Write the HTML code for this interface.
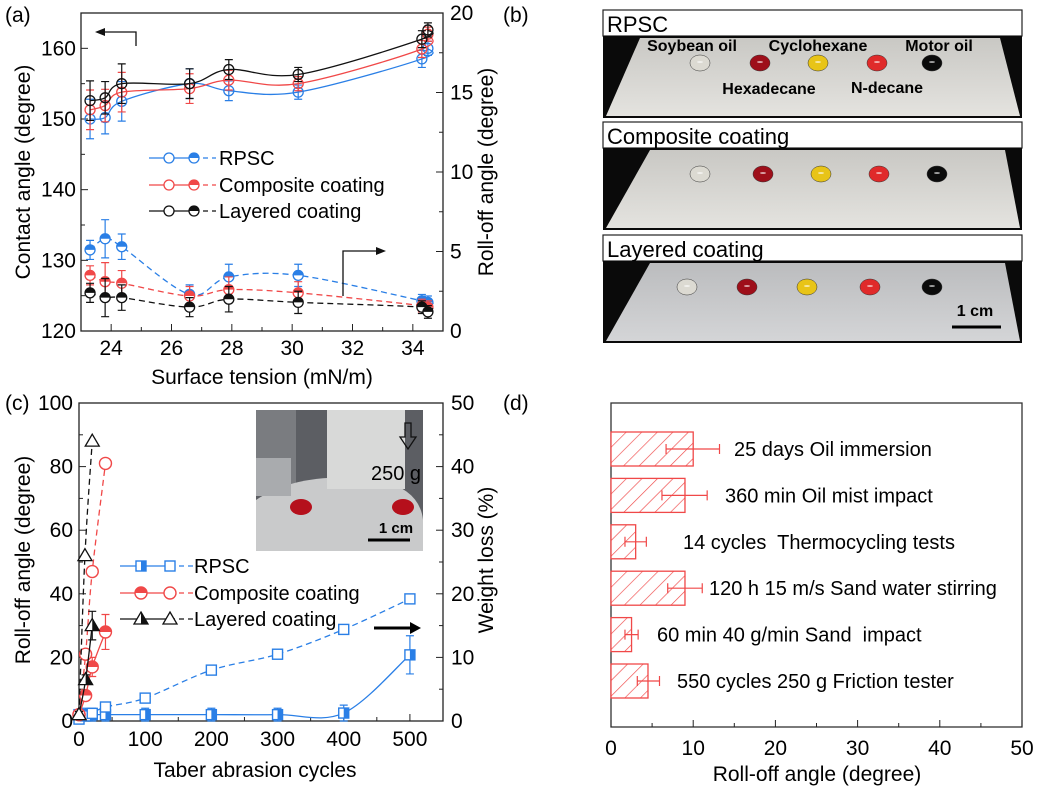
<!DOCTYPE html>
<html><head><meta charset="utf-8"><style>
html,body{margin:0;padding:0;background:#fff;}
svg{display:block;font-family:"Liberation Sans",Arial,sans-serif;}
text{white-space:pre;}
</style></head><body>
<svg id="fig" width="1040" height="788" viewBox="0 0 1040 788" xmlns="http://www.w3.org/2000/svg">
<defs>
<pattern id="hatch" patternUnits="userSpaceOnUse" width="11" height="11" patternTransform="rotate(45)">
<rect width="11" height="11" fill="#fff"/><line x1="0" y1="0" x2="0" y2="11" stroke="#f04848" stroke-width="1.3"/>
</pattern>
<linearGradient id="plateA" x1="0" y1="0" x2="0" y2="1"><stop offset="0" stop-color="#c9c8c4"/><stop offset="1" stop-color="#e4e3df"/></linearGradient>
<linearGradient id="plateC" x1="0" y1="0" x2="0" y2="1"><stop offset="0" stop-color="#bbbcbe"/><stop offset="1" stop-color="#d4d5d7"/></linearGradient>
</defs>
<g id="layer"></g>
<text x="5" y="22" font-size="21">(a)</text>
<text x="5" y="410" font-size="21">(c)</text>
<text x="503" y="22" font-size="21">(b)</text>
<text x="503" y="410" font-size="21">(d)</text>
</svg>
<script>
// ---------- Panel (a) data ----------
const aX = [23.3, 23.8, 24.35, 26.6, 27.9, 30.2, 34.3, 34.5];
const aCA_RPSC = [150.0, 150.2, 152.5, 155.0, 154.0, 153.8, 158.5, 160.0];
const aCA_Comp = [151.3, 151.9, 153.8, 154.3, 155.5, 155.0, 159.9, 162.0];
const aCA_Lay  = [152.6, 153.0, 155.0, 155.0, 157.0, 156.3, 161.3, 162.6];
const aCAerr = [2.8, 2.3, 2.8, 2.1, 1.4, 1.0, 1.2, 1.0];
const aRO_RPSC = [5.1, 5.8, 5.3, 2.3, 3.4, 3.5, 1.9, 1.8];
const aRO_Comp = [3.5, 3.1, 3.0, 2.2, 2.6, 2.4, 1.6, 1.5];
const aRO_Lay  = [2.4, 2.1, 2.1, 1.5, 2.0, 1.8, 1.5, 1.2];
const aROerr = [0.6, 1.2, 0.8, 0.6, 0.8, 0.7, 0.4, 0.4];
const aXTicks = [24, 26, 28, 30, 32, 34];
const aYTicks = [120, 130, 140, 150, 160];
const aY2Ticks = [0, 5, 10, 15, 20];
// ---------- Panel (c) data ----------
const cX_RPSC = [0, 10, 20, 40, 100, 200, 300, 400, 500];
const cRO_RPSC = [2, 2, 2, 2, 2, 2, 2, 2.5, 20.8];
const cROerr_RPSC = [1.5, 2, 2, 2, 2, 2, 2, 2.5, 6];
const cWX_RPSC = [0, 10, 20, 40, 100, 200, 300, 400, 500];
const cWL_RPSC = [0.3, 0.8, 1.2, 2.2, 3.6, 8.0, 10.5, 14.4, 19.2];
const cX_Comp = [0, 10, 20, 40];
const cRO_Comp = [2, 8, 17, 28];
const cROerr_Comp = [1, 1.5, 3, 5.5];
const cWL_Comp = [1, 10.5, 23.5, 40.5];
const cX_Lay = [0, 10, 20];
const cRO_Lay = [2, 13, 30];
const cROerr_Lay = [1, 1.5, 4.5];
const cWX_Lay = [0, 9, 20];
const cWL_Lay = [1, 26, 44];
const cXTicks = [0, 100, 200, 300, 400, 500];
const cYTicks = [0, 20, 40, 60, 80, 100];
const cY2Ticks = [0, 10, 20, 30, 40, 50];
// ---------- Panel (d) data ----------
const dLabels = ["25 days Oil immersion","360 min Oil mist impact","14 cycles  Thermocycling tests","120 h 15 m/s Sand water stirring","60 min 40 g/min Sand  impact","550 cycles 250 g Friction tester"];
const dValues = [10, 9, 3, 9, 2.5, 4.5];
const dErrLo = [3.3, 2.8, 1.3, 2.1, 0.8, 1.3];
const dErrHi = [3.2, 2.7, 1.3, 2.1, 0.8, 1.4];
const dXTicks = [0, 10, 20, 30, 40, 50];

const NS = "http://www.w3.org/2000/svg";
const L = document.getElementById('layer');
function mk(tag, attrs, parent) {
  const e = document.createElementNS(NS, tag);
  for (const k in attrs) e.setAttribute(k, attrs[k]);
  (parent || L).appendChild(e);
  return e;
}
function txt(x, y, s, size, anchor, parent) {
  const t = mk('text', {x: x, y: y, 'font-size': size, 'text-anchor': anchor || 'start'}, parent);
  t.textContent = s;
  return t;
}
function spline(pts) {
  let d = 'M' + pts[0][0] + ',' + pts[0][1];
  for (let i = 0; i < pts.length - 1; i++) {
    const p0 = pts[i - 1] || pts[i], p1 = pts[i], p2 = pts[i + 1], p3 = pts[i + 2] || p2;
    const c1 = [p1[0] + (p2[0] - p0[0]) / 6, p1[1] + (p2[1] - p0[1]) / 6];
    const c2 = [p2[0] - (p3[0] - p1[0]) / 6, p2[1] - (p3[1] - p1[1]) / 6];
    d += ' C' + c1 + ' ' + c2 + ' ' + p2;
  }
  return d;
}
const BLUE = '#2a7fe6', RED = '#f04848', BLK = '#111';
const FS = 21;

// ================= PANEL (a) =================
const A = {l: 81, r: 443, t: 13, b: 331};
const ax = v => A.l + (v - 23) / 12 * (A.r - A.l);
const ay = v => A.b - (v - 120) / 45 * (A.b - A.t);
const ay2 = v => A.b - v / 20 * (A.b - A.t);
const gA = mk('g', {});


const frameA = mk('rect', {x: A.l, y: A.t, width: A.r - A.l, height: A.b - A.t, fill: 'none', stroke: '#222', 'stroke-width': 1.3}, gA);


for (let v = 23; v <= 35; v += 1) {
  const major = v % 2 === 0;
  mk('line', {x1: ax(v), x2: ax(v), y1: A.b, y2: A.b - (major ? 7 : 4), stroke: '#222'}, gA);
}
aXTicks.forEach(v => {
  const t = txt(ax(v), A.b + 24, String(v), FS, 'middle', gA);
  
  
});
for (let v = 120; v <= 165; v += 5) {
  mk('line', {x1: A.l, x2: A.l + (v % 10 === 0 ? 7 : 4), y1: ay(v), y2: ay(v), stroke: '#222'}, gA);
}
aYTicks.forEach(v => {
  const t = txt(A.l - 5, ay(v) + 7, String(v), FS, 'end', gA);
  
  
});
for (let v = 0; v <= 20; v += 2.5) {
  mk('line', {x1: A.r, x2: A.r - (v % 5 === 0 ? 7 : 4), y1: ay2(v), y2: ay2(v), stroke: '#222'}, gA);
}
aY2Ticks.forEach(v => {
  const t = txt(A.r + 7, ay2(v) + 7, String(v), FS, 'start', gA);
  
  
});
const axA = txt(262, 384, 'Surface tension (mN/m)', FS, 'middle', gA);


const ytA = txt(0, 0, 'Contact angle (degree)', FS, 'middle', gA);
ytA.setAttribute('transform', 'translate(30,172) rotate(-90)');


const y2A = txt(0, 0, 'Roll-off angle (degree)', FS, 'middle', gA);
y2A.setAttribute('transform', 'translate(493,172) rotate(-90)');



function seriesA(ca, ro, col, name) {
  const g = mk('g', {}, gA);
  
  
  const p1 = mk('path', {d: spline(aX.map((x, i) => [ax(x), ay(ca[i])])), fill: 'none', stroke: col, 'stroke-width': 1.3}, g);
  
  
  const p2 = mk('path', {d: spline(aX.map((x, i) => [ax(x), ay2(ro[i])])), fill: 'none', stroke: col, 'stroke-width': 1.3, 'stroke-dasharray': '6,4'}, g);
  
  
  aX.forEach((x, i) => {
    const X = ax(x);
    let y0 = ay(ca[i] - aCAerr[i]), y1 = ay(ca[i] + aCAerr[i]);
    mk('path', {d: `M${X},${y0}V${y1}M${X-4},${y0}h8M${X-4},${y1}h8`, stroke: col, 'stroke-width': 1.2, fill: 'none'}, g);
    const c = mk('circle', {cx: X, cy: ay(ca[i]), r: 5, fill: 'none', stroke: col, 'stroke-width': 1.3}, g);
    
    
    y0 = ay2(ro[i] - aROerr[i]); y1 = ay2(ro[i] + aROerr[i]);
    mk('path', {d: `M${X},${y0}V${y1}M${X-4},${y0}h8M${X-4},${y1}h8`, stroke: col, 'stroke-width': 1.2, fill: 'none'}, g);
    const Y = ay2(ro[i]);
    mk('circle', {cx: X, cy: Y, r: 5, fill: '#fff', stroke: col, 'stroke-width': 1.3}, g);
    const h = mk('path', {d: `M${X-5},${Y} A5,5 0 0 1 ${X+5},${Y} Z`, fill: col}, g);
    
    
  });
}
seriesA(aCA_RPSC, aRO_RPSC, BLUE, 'rpsc');
seriesA(aCA_Comp, aRO_Comp, RED, 'composite');
seriesA(aCA_Lay, aRO_Lay, BLK, 'layered');
[['RPSC', BLUE, 158], ['Composite coating', RED, 185], ['Layered coating', BLK, 211]].forEach(([n, c, y]) => {
  const g = mk('g', {}, gA);
  
  
  mk('line', {x1: 149, x2: 194, y1: y, y2: y, stroke: c, 'stroke-width': 1.3}, g);
  mk('line', {x1: 194, x2: 216, y1: y, y2: y, stroke: c, 'stroke-width': 1.3, 'stroke-dasharray': '5,4'}, g);
  mk('circle', {cx: 169, cy: y, r: 5, fill: '#fff', stroke: c, 'stroke-width': 1.3}, g);
  mk('circle', {cx: 194, cy: y, r: 5, fill: '#fff', stroke: c, 'stroke-width': 1.3}, g);
  mk('path', {d: `M189,${y} A5,5 0 0 1 199,${y} Z`, fill: c}, g);
  txt(219, y + 7, n, 20, 'start', g);
});
const arA1 = mk('path', {d: 'M136,46V32H100', fill: 'none', stroke: '#111', 'stroke-width': 1.3}, gA);


mk('path', {d: 'M95,32l10,-4v8z', fill: '#111'}, gA);
const arA2 = mk('path', {d: 'M343,296V251H379', fill: 'none', stroke: '#111', 'stroke-width': 1.3}, gA);


mk('path', {d: 'M386,251l-10,-4v8z', fill: '#111'}, gA);

// ================= PANEL (b) photos =================
const gB = mk('g', {});


const drops = ['#dcdad2', '#9e0f1a', '#e8c417', '#e02a2a', '#0b0b0b'];
function photo(y, name, dropXs, dropY, plateFill, plateTop, labels) {
  const g = mk('g', {}, gB);
  
  
  mk('rect', {x: 603, y: y, width: 419, height: 26, fill: '#fff', stroke: '#222', 'stroke-width': 1.2}, g);
  const h = txt(607, y + 22, name === 'rpsc' ? 'RPSC' : name === 'composite' ? 'Composite coating' : 'Layered coating', 22, 'start', g);
  
  
  mk('rect', {x: 603, y: y + 26, width: 419, height: 82, fill: '#0a0a0a'}, g);
  mk('path', {d: `M${plateTop[0]},${y+28}L${plateTop[1]},${y+28}L1020,${y+106}L606,${y+106}Z`, fill: plateFill}, g);
  dropXs.forEach((x, i) => {
    const d = mk('ellipse', {cx: x, cy: y + dropY, rx: 10, ry: 8, fill: drops[i], stroke: '#333', 'stroke-width': 0.5}, g);
    
    
    mk('ellipse', {cx: x, cy: y + dropY - 1, rx: 3, ry: 1, fill: '#fff', opacity: 0.6}, g);
  });
  (labels || []).forEach(([s, x, yy]) => {
    const t = txt(x, yy, s, 16, 'middle', g);
    t.setAttribute('font-weight', 'bold');
    
    
  });
}
photo(10, 'rpsc', [700, 760, 818, 877, 932], 53, 'url(#plateA)', [640, 1000],
  [['Soybean oil', 692, 51], ['Cyclohexane', 818, 51], ['Motor oil', 939, 51], ['Hexadecane', 769, 94], ['N-decane', 887, 93]]);
photo(122, 'composite', [700, 763, 821, 879, 937], 52, 'url(#plateA)', [650, 1005]);
photo(235, 'layered', [687, 747, 807, 870, 932], 52, 'url(#plateC)', [650, 1005]);
const sb = txt(975, 316, '1 cm', 16, 'middle', gB);
sb.setAttribute('font-weight', 'bold');


mk('line', {x1: 952, x2: 1001, y1: 327, y2: 327, stroke: '#000', 'stroke-width': 3}, gB);

// ================= PANEL (c) =================
const C = {l: 79, r: 443, t: 403, b: 721};
const cx = v => C.l + v / 550 * (C.r - C.l);
const cy = v => C.b - v / 100 * (C.b - C.t);
const cy2 = v => C.b - v / 50 * (C.b - C.t);
const gC = mk('g', {});


const frameC = mk('rect', {x: C.l, y: C.t, width: C.r - C.l, height: C.b - C.t, fill: 'none', stroke: '#222', 'stroke-width': 1.3}, gC);


for (let v = 0; v <= 550; v += 50) mk('line', {x1: cx(v), x2: cx(v), y1: C.b, y2: C.b - (v % 100 === 0 ? 7 : 4), stroke: '#222'}, gC);
cXTicks.forEach(v => {
  const t = txt(cx(v), C.b + 25, String(v), FS, 'middle', gC);
  
  
});
for (let v = 0; v <= 100; v += 10) mk('line', {x1: C.l, x2: C.l + (v % 20 === 0 ? 7 : 4), y1: cy(v), y2: cy(v), stroke: '#222'}, gC);
cYTicks.forEach(v => {
  const t = txt(C.l - 6, cy(v) + 7, String(v), FS, 'end', gC);
  
  
});
for (let v = 0; v <= 50; v += 5) mk('line', {x1: C.r, x2: C.r - (v % 10 === 0 ? 7 : 4), y1: cy2(v), y2: cy2(v), stroke: '#222'}, gC);
cY2Ticks.forEach(v => {
  const t = txt(C.r + 8, cy2(v) + 7, String(v), FS, 'start', gC);
  
  
});
const axC = txt(255, 777, 'Taber abrasion cycles', FS, 'middle', gC);


const ytC = txt(0, 0, 'Roll-off angle (degree)', FS, 'middle', gC);
ytC.setAttribute('transform', 'translate(30,560) rotate(-90)');


const y2C = txt(0, 0, 'Weight loss (%)', FS, 'middle', gC);
y2C.setAttribute('transform', 'translate(493,560) rotate(-90)');


const ins = mk('g', {}, gC);


mk('rect', {x: 256, y: 410, width: 167, height: 141, fill: '#5c5e63'}, ins);
mk('rect', {x: 256, y: 410, width: 40, height: 80, fill: '#7a7c80'}, ins);
mk('path', {d: 'M256,500 Q300,470 380,480 Q420,490 423,520 L423,551 L256,551Z', fill: '#c9cacb'}, ins);
mk('rect', {x: 256, y: 458, width: 35, height: 38, fill: '#a9abae'}, ins);
mk('rect', {x: 327, y: 410, width: 78, height: 79, fill: '#d8d9d8'}, ins);
mk('ellipse', {cx: 301, cy: 507, rx: 11, ry: 8, fill: '#b5101c'}, ins);
mk('ellipse', {cx: 403, cy: 507, rx: 11, ry: 8, fill: '#b5101c'}, ins);
mk('path', {d: 'M405,423v14h-5l8,12 8,-12h-5v-14z', fill: 'none', stroke: '#111', 'stroke-width': 1.3}, ins);
const insT = txt(396, 480, '250 g', 20, 'middle', ins);


const insS = txt(396, 533, '1 cm', 15, 'middle', ins);
insS.setAttribute('font-weight', 'bold');


mk('line', {x1: 368, x2: 410, y1: 540, y2: 540, stroke: '#000', 'stroke-width': 3}, ins);

function marker(g, type, X, Y, col, filled, name) {
  let e;
  if (type === 'sq') {
    e = mk('rect', {x: X - 5, y: Y - 5, width: 10, height: 10, fill: '#fff', stroke: col, 'stroke-width': 1.4}, g);
    if (filled) mk('rect', {x: X, y: Y - 5, width: 5, height: 10, fill: col}, g);
  } else if (type === 'ci') {
    e = mk('circle', {cx: X, cy: Y, r: 6, fill: '#fff', stroke: col, 'stroke-width': 1.4}, g);
    if (filled) mk('path', {d: `M${X-6},${Y} A6,6 0 0 1 ${X+6},${Y} Z`, fill: col}, g);
  } else {
    e = mk('path', {d: `M${X},${Y-7}L${X+7},${Y+5}L${X-7},${Y+5}Z`, fill: '#fff', stroke: col, 'stroke-width': 1.3}, g);
    if (filled) mk('path', {d: `M${X},${Y-7}L${X+7},${Y+5}L${X},${Y+5}Z`, fill: col}, g);
  }
  
  
}
function seriesC(xs, ro, err, wxs, wl, col, type, name) {
  const g = mk('g', {}, gC);
  
  
  const l1 = mk('path', {d: spline(xs.map((x, i) => [cx(x), cy(ro[i])])), fill: 'none', stroke: col, 'stroke-width': 1.3}, g);
  
  
  const l2 = mk('path', {d: spline(wxs.map((x, i) => [cx(x), cy2(wl[i])])), fill: 'none', stroke: col, 'stroke-width': 1.3, 'stroke-dasharray': '6,4'}, g);
  
  
  xs.forEach((x, i) => {
    const X = cx(x), y0 = cy(Math.max(0, ro[i] - err[i])), y1 = cy(ro[i] + err[i]);
    mk('path', {d: `M${X},${y0}V${y1}M${X-4},${y0}h8M${X-4},${y1}h8`, stroke: col, 'stroke-width': 1.2, fill: 'none'}, g);
    marker(g, type, X, cy(ro[i]), col, true, name + '-rolloff-point');
  });
  wxs.forEach((x, i) => marker(g, type, cx(x), cy2(wl[i]), col, false, name + '-weightloss-point'));
}
seriesC(cX_RPSC, cRO_RPSC, cROerr_RPSC, cWX_RPSC, cWL_RPSC, BLUE, 'sq', 'rpsc');
seriesC(cX_Comp, cRO_Comp, cROerr_Comp, cX_Comp, cWL_Comp, RED, 'ci', 'composite');
seriesC(cX_Lay, cRO_Lay, cROerr_Lay, cWX_Lay, cWL_Lay, BLK, 'tr', 'layered');
[['RPSC', BLUE, 566, 'sq'], ['Composite coating', RED, 593, 'ci'], ['Layered coating', BLK, 619, 'tr']].forEach(([n, c, y, t]) => {
  const g = mk('g', {}, gC);
  
  
  mk('line', {x1: 120, x2: 170, y1: y, y2: y, stroke: c, 'stroke-width': 1.3}, g);
  mk('line', {x1: 170, x2: 193, y1: y, y2: y, stroke: c, 'stroke-width': 1.3, 'stroke-dasharray': '5,4'}, g);
  marker(g, t, 141, y, c, true, 'legend-marker');
  marker(g, t, 170, y, c, false, 'legend-marker');
  txt(194, y + 7, n, 20, 'start', g);
});
const arC = mk('line', {x1: 374, x2: 412, y1: 628, y2: 628, stroke: '#000', 'stroke-width': 3}, gC);


mk('path', {d: 'M421,628l-11,-6v12z', fill: '#000'}, gC);

// ================= PANEL (d) =================
const D = {l: 611, r: 1022, t: 403, b: 727};
const dx = v => D.l + v / 50 * (D.r - D.l);
const dRowY = i => 449 + i * 46.4;
const gD = mk('g', {});


const frameD = mk('rect', {x: D.l, y: D.t, width: D.r - D.l, height: D.b - D.t, fill: 'none', stroke: '#333', 'stroke-width': 1.3}, gD);


for (let v = 0; v <= 50; v += 5) mk('line', {x1: dx(v), x2: dx(v), y1: D.b, y2: D.b - (v % 10 === 0 ? 7 : 4), stroke: '#222'}, gD);
dXTicks.forEach(v => {
  const t = txt(dx(v), D.b + 28, String(v), FS, 'middle', gD);
  
  
});
const axD = txt(817, 781, 'Roll-off angle (degree)', FS, 'middle', gD);


const dLabelX = [734, 725, 683, 709, 657, 677];
dValues.forEach((v, i) => {
  const Y = dRowY(i);
  const b = mk('rect', {x: D.l, y: Y - 17, width: dx(v) - D.l, height: 34, fill: 'url(#hatch)', stroke: RED, 'stroke-width': 1.3}, gD);
  
  
  const x0 = dx(v - dErrLo[i]), x1 = dx(v + dErrHi[i]);
  mk('path', {d: `M${x0},${Y}H${x1}M${x0},${Y-5}v10M${x1},${Y-5}v10`, stroke: RED, 'stroke-width': 1.2, fill: 'none'}, gD);
  const t = txt(dLabelX[i], Y + 7, dLabels[i], 20, 'start', gD);
  
  
});
</script>
</body></html>
